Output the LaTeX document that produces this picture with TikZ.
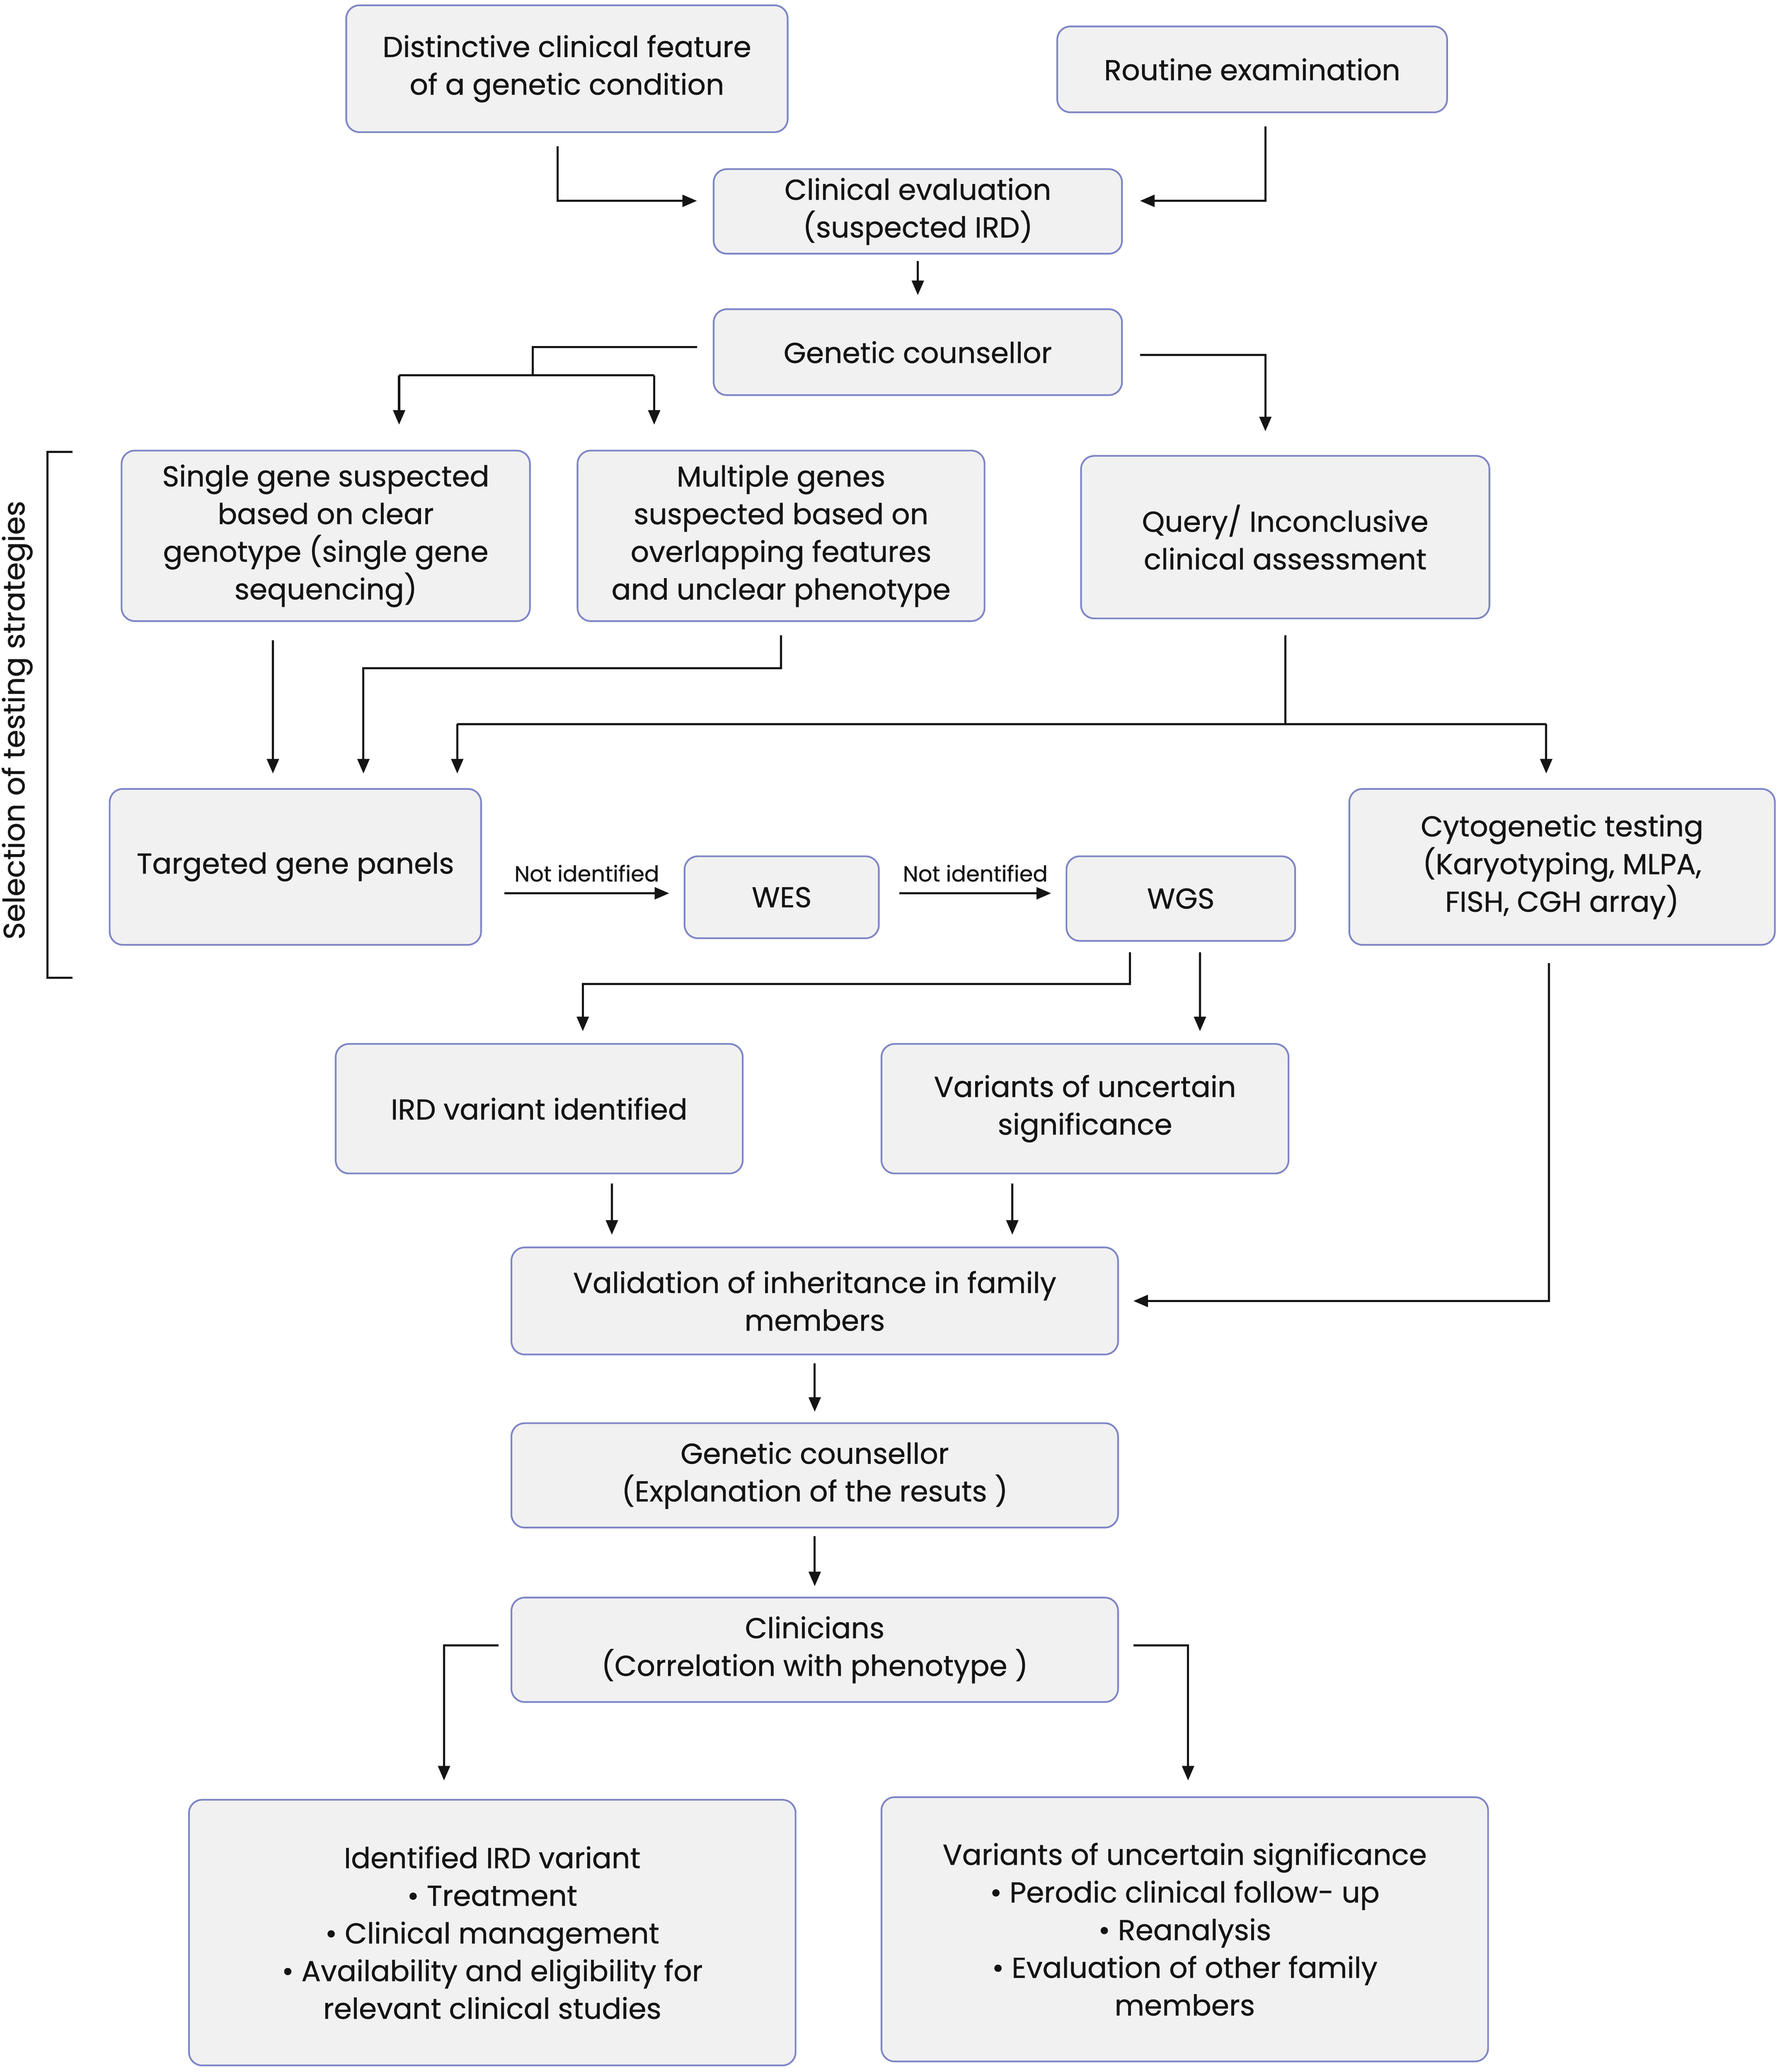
\documentclass[tikz,border=0pt]{standalone}
\usepackage{fontspec}
\setmainfont{Poppins}[FakeBold=0.6]
\usetikzlibrary{arrows.meta,calc}
\definecolor{boxborder}{HTML}{7F86C6}
\definecolor{boxfill}{HTML}{F1F1F1}
\definecolor{txt}{HTML}{141414}
\begin{document}
\begin{tikzpicture}[x=1pt,y=-1pt,
  box/.style={draw=boxborder, line width=1.3pt, fill=boxfill, rounded corners=10pt,
    align=center, inner sep=0pt, text=txt, font=\fontsize{21.8}{28.5}\selectfont},
  ln/.style={line width=1.6pt, draw=txt},
  arr/.style={line width=1.6pt, draw=txt, -{Triangle[length=11pt,width=9pt]}},
  lbl/.style={font=\fontsize{16.5}{18}\selectfont, text=txt, inner sep=0pt}]
\useasboundingbox (0,0) rectangle (1346.8,1568);
\fill[white] (0,0) rectangle (1346.8,1568);

\node[box, minimum width=334pt, minimum height=96pt] (dist) at (429,52) {Distinctive clinical feature\\of a genetic condition};
\node[box, minimum width=295pt, minimum height=65pt] (rout) at (947.5,52.5) {Routine examination};
\node[box, minimum width=309pt, minimum height=64pt] (ce) at (694.5,160) {Clinical evaluation\\(suspected IRD)};
\node[box, minimum width=309pt, minimum height=65pt] (gc) at (694.5,266.5) {Genetic counsellor};
\node[box, minimum width=309pt, minimum height=129pt] (sg) at (246.5,405.5) {Single gene suspected\\based on clear\\genotype (single gene\\sequencing)};
\node[box, minimum width=308pt, minimum height=129pt] (mg) at (591,405.5) {Multiple genes\\suspected based on\\overlapping features\\and unclear phenotype};
\node[box, minimum width=309pt, minimum height=123pt] (q) at (972.5,406.5) {Query/ Inconclusive\\clinical assessment};
\node[box, minimum width=281pt, minimum height=118pt] (tgp) at (223.5,656) {Targeted gene panels};
\node[box, minimum width=147pt, minimum height=62pt] (wes) at (591.5,679) {WES};
\node[box, minimum width=173pt, minimum height=64pt] (wgs) at (893.5,680) {WGS};
\node[box, minimum width=322pt, minimum height=118pt] (cyto) at (1182,656) {Cytogenetic testing\\(Karyotyping, MLPA,\\FISH, CGH array)};
\node[box, minimum width=308pt, minimum height=98pt] (ird) at (408,839) {IRD variant identified};
\node[box, minimum width=308pt, minimum height=98pt] (vus) at (821,839) {Variants of uncertain\\significance};
\node[box, minimum width=459pt, minimum height=81pt] (val) at (616.5,984.5) {Validation of inheritance in family\\members};
\node[box, minimum width=459pt, minimum height=79pt] (gc2) at (616.5,1116.5) {Genetic counsellor\\(Explanation of the resuts )};
\node[box, minimum width=459pt, minimum height=79pt] (clin) at (616.5,1248.5) {Clinicians\\(Correlation with phenotype )};
\node[box, minimum width=459pt, minimum height=201pt] (idv) at (372.5,1462.5) {Identified IRD variant\\\textbullet{} Treatment\\\textbullet{} Clinical management\\\textbullet{} Availability and eligibility for\\relevant clinical studies};
\node[box, minimum width=459pt, minimum height=200pt] (vusl) at (896.5,1460) {Variants of uncertain significance\\\textbullet{} Perodic clinical follow- up\\\textbullet{} Reanalysis\\\textbullet{} Evaluation of other family\\members};

% bracket
\draw[ln] (55,342) -- (36,342) -- (36,740) -- (55,740);
\node[rotate=90, text=txt, font=\fontsize{22.5}{24}\selectfont, inner sep=0pt] (sel) at (13,545) {Selection of testing strategies};

% connectors
\draw[arr] ([xshift=-7pt,yshift=-10pt]dist.south) |- ([xshift=-12pt,yshift=8pt]ce.west);
\draw[arr] ([xshift=10pt,yshift=-10pt]rout.south) |- ([xshift=13pt,yshift=8pt]ce.east);
\draw[arr] ([yshift=-5pt]ce.south) -- ([yshift=10pt]gc.north);

\coordinate (gcl) at (403,284);
\coordinate (bl) at (302,284);
\coordinate (br) at (495,284);
\draw[ln] ([xshift=-12pt,yshift=4pt]gc.west) -| (gcl);
\draw[ln] (bl) -- (br);
\draw[arr] (bl) -- ($(bl |- sg.north)+(0,-19)$);
\draw[arr] (br) -- ($(br |- mg.north)+(0,-19)$);
\draw[arr] ([xshift=13pt,yshift=-2pt]gc.east) -| ([xshift=-15pt,yshift=18pt]q.north);

\draw[arr] ([xshift=-40pt,yshift=-14pt]sg.south) -- ([xshift=-17pt,yshift=11pt]tgp.north);
\draw[arr] ([yshift=-10pt]mg.south) -- ++(0,25) -| ([xshift=51.5pt,yshift=11pt]tgp.north);

\coordinate (ql) at (346,548);
\coordinate (qr) at (1170,548);
\draw[ln] ([yshift=-12pt]q.south) -- (q.south |- ql);
\draw[ln] (ql) -- (qr);
\draw[arr] (ql) -- ($(ql |- tgp.north)+(0,-11)$);
\draw[arr] (qr) -- ($(qr |- cyto.north)+(0,-11)$);

\draw[arr] ([xshift=17pt,yshift=-20pt]tgp.east) -- node[lbl, above, yshift=8pt] {Not identified} ([xshift=-11pt,yshift=3pt]wes.west);
\draw[arr] ([xshift=15pt,yshift=3pt]wes.east) -- node[lbl, above, yshift=8pt] {Not identified} ([xshift=-11pt,yshift=4pt]wgs.west);

\draw[arr] ([xshift=-38.5pt,yshift=-8pt]wgs.south) -- ++(0,24) -| ([xshift=33pt,yshift=9pt]ird.north);
\draw[arr] ([xshift=14.5pt,yshift=-8pt]wgs.south) -- ([xshift=87pt,yshift=9pt]vus.north);

\draw[arr] ([xshift=-10pt,yshift=-13pt]cyto.south) |- ([xshift=11pt]val.east);
\draw[arr] ([xshift=55pt,yshift=-7pt]ird.south) -- ([xshift=-153.5pt,yshift=9pt]val.north);
\draw[arr] ([xshift=-55pt,yshift=-7pt]vus.south) -- ([xshift=149.5pt,yshift=9pt]val.north);

\draw[arr] ([yshift=-6pt]val.south) -- ([yshift=8pt]gc2.north);
\draw[arr] ([yshift=-6pt]gc2.south) -- ([yshift=8pt]clin.north);

\draw[arr] ([xshift=-9pt,yshift=3.5pt]clin.west) -| ([xshift=-36.5pt,yshift=14pt]idv.north);
\draw[arr] ([xshift=11pt,yshift=3.5pt]clin.east) -| ([xshift=2.5pt,yshift=12pt]vusl.north);
\end{tikzpicture}
\end{document}
